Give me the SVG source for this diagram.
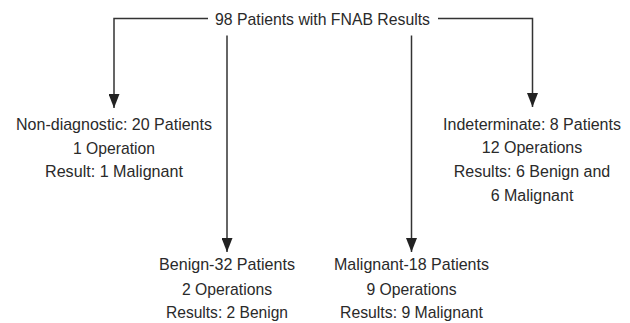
<svg xmlns="http://www.w3.org/2000/svg" width="630" height="323" viewBox="0 0 630 323">
<defs>
<marker id="arr" markerWidth="14" markerHeight="11" refX="14" refY="5.5" orient="auto" markerUnits="userSpaceOnUse">
<path d="M0,0 L14,5.5 L0,11 Z" fill="#222"/>
</marker>
<style>
text{font-family:"Liberation Sans",Arial,sans-serif;font-size:17px;fill:#2a2a2a;text-anchor:middle}
#indeterminate text{font-size:16px}
.c{fill:none;stroke:#333;stroke-width:1.5}
</style>
</defs>
<rect width="630" height="323" fill="#fff"/>
<g id="connectors">
<path class="c" d="M208,18.5 H114 V108" marker-end="url(#arr)"/>
<path class="c" d="M438,18.5 H532.5 V107" marker-end="url(#arr)"/>
<path class="c" d="M227,35.5 V252" marker-end="url(#arr)"/>
<path class="c" d="M411.5,35.5 V252" marker-end="url(#arr)"/>
</g>
<g id="root"><text x="322.5" y="25" textLength="215" lengthAdjust="spacingAndGlyphs">98 Patients with FNAB Results</text></g>
<g id="nondiagnostic">
<text x="114" y="130" textLength="196" lengthAdjust="spacingAndGlyphs">Non-diagnostic: 20 Patients</text>
<text x="114" y="154" textLength="82" lengthAdjust="spacingAndGlyphs">1 Operation</text>
<text x="114" y="177" textLength="138" lengthAdjust="spacingAndGlyphs">Result: 1 Malignant</text>
</g>
<g id="indeterminate">
<text x="532" y="129.5">Indeterminate: 8 Patients</text>
<text x="532" y="153">12 Operations</text>
<text x="532" y="177">Results: 6 Benign and</text>
<text x="532" y="201">6 Malignant</text>
</g>
<g id="benign">
<text x="227" y="270" textLength="136" lengthAdjust="spacingAndGlyphs">Benign-32 Patients</text>
<text x="227" y="295" textLength="90" lengthAdjust="spacingAndGlyphs">2 Operations</text>
<text x="227" y="318" textLength="122" lengthAdjust="spacingAndGlyphs">Results: 2 Benign</text>
</g>
<g id="malignant">
<text x="411.5" y="270" textLength="155" lengthAdjust="spacingAndGlyphs">Malignant-18 Patients</text>
<text x="411.5" y="295" textLength="90" lengthAdjust="spacingAndGlyphs">9 Operations</text>
<text x="411.5" y="318" textLength="143" lengthAdjust="spacingAndGlyphs">Results: 9 Malignant</text>
</g>
</svg>
